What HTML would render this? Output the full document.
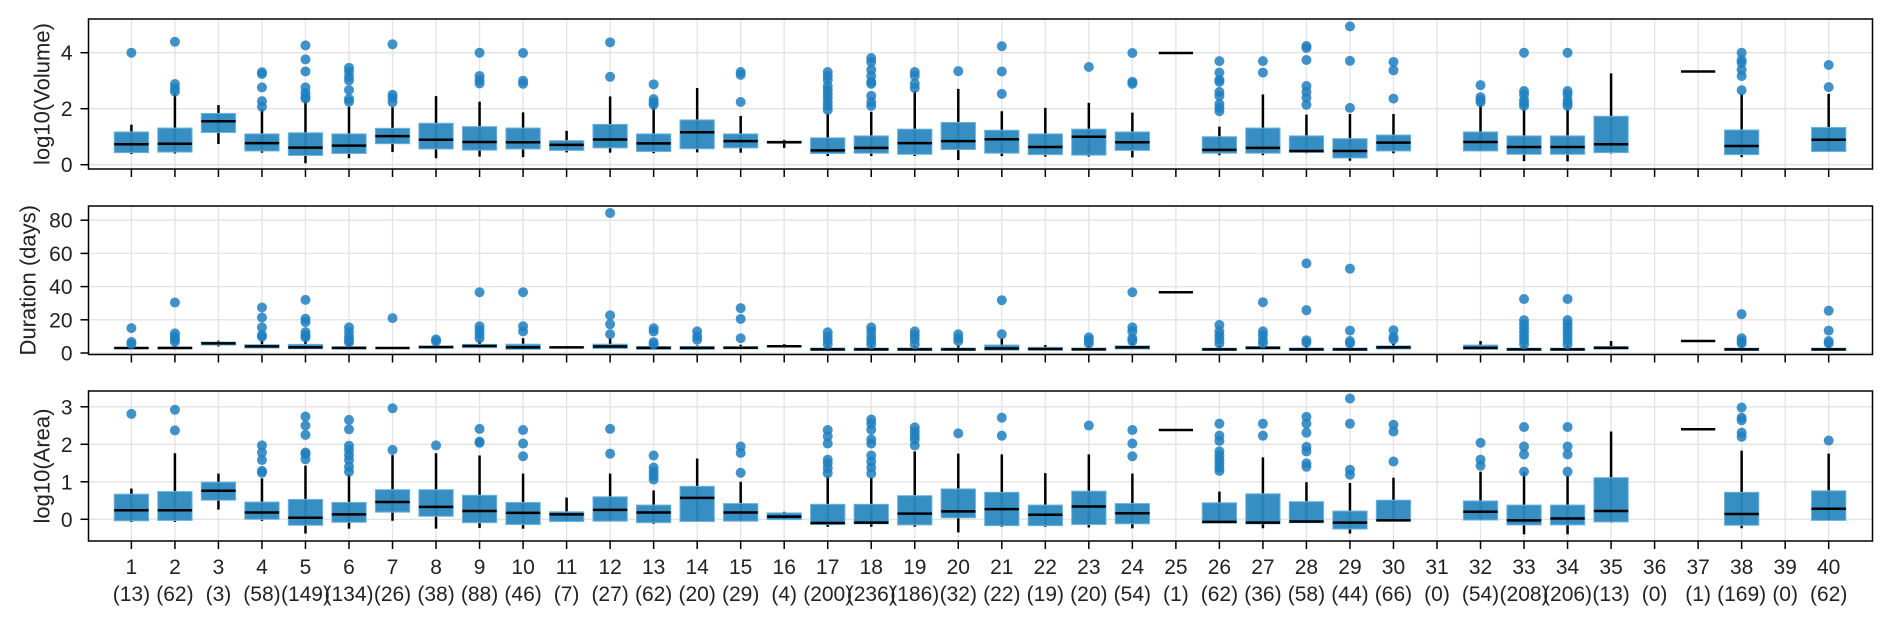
<!DOCTYPE html>
<html><head><meta charset="utf-8"><style>
body{margin:0;background:#fff;}
svg{display:block;font-family:"Liberation Sans",sans-serif;}
</style></head><body>
<svg id="chart" width="1892" height="625" xmlns="http://www.w3.org/2000/svg"></svg>
<script>
const categories=[1,2,3,4,5,6,7,8,9,10,11,12,13,14,15,16,17,18,19,20,21,22,23,24,25,26,27,28,29,30,31,32,33,34,35,36,37,38,39,40];
const counts=[13,62,3,58,149,134,26,38,88,46,7,27,62,20,29,4,200,236,186,32,22,19,20,54,1,62,36,58,44,66,0,54,208,206,13,0,1,169,0,62];
// [low whisker, q1, median, q3, high whisker]
const volStats=[[0.38,0.43,0.73,1.17,1.43],[0.4,0.45,0.75,1.31,2.55],[0.74,1.15,1.55,1.83,2.13],[0.43,0.49,0.77,1.1,1.99],[0.05,0.33,0.61,1.14,2.31],[0.23,0.4,0.68,1.1,2.07],[0.45,0.75,1.02,1.3,2.05],[0.23,0.56,0.89,1.48,2.45],[0.29,0.52,0.81,1.36,2.25],[0.27,0.56,0.8,1.31,1.87],[0.44,0.51,0.71,0.86,1.21],[0.43,0.6,0.9,1.44,2.44],[0.41,0.47,0.76,1.1,2.14],[0.44,0.57,1.16,1.6,2.74],[0.43,0.6,0.84,1.1,1.74],[0.6,0.77,0.8,0.84,0.89],[0.31,0.4,0.51,0.96,1.84],[0.31,0.41,0.6,1.03,1.89],[0.31,0.37,0.77,1.27,2.63],[0.17,0.54,0.84,1.51,2.71],[0.31,0.41,0.91,1.23,1.91],[0.29,0.36,0.63,1.1,2.03],[0.29,0.34,1.0,1.27,2.21],[0.26,0.51,0.8,1.17,1.86],[3.99,3.99,3.99,3.99,3.99],[0.34,0.41,0.53,1.0,1.36],[0.34,0.41,0.6,1.31,2.51],[0.41,0.44,0.49,1.03,1.79],[0.14,0.24,0.49,0.93,1.81],[0.41,0.49,0.79,1.06,1.81],null,[0.49,0.49,0.81,1.17,2.14],[0.13,0.37,0.63,1.03,2.0],[0.12,0.37,0.63,1.03,2.0],[0.4,0.43,0.73,1.73,3.26],null,[3.33,3.33,3.33,3.33,3.33],[0.27,0.36,0.67,1.24,2.53],null,[0.47,0.47,0.89,1.33,2.53]];
const volOutliers=[[4.0],[4.39,2.88,2.73,2.61],[],[3.3,3.24,2.76,2.27,2.07],[4.26,3.76,3.33,2.76,2.57,2.43,2.36],[3.46,3.32,3.14,3.01,2.67,2.35,2.25],[4.3,2.5,2.39,2.23],[],[4.0,3.17,3.02,2.9],[3.99,3.0,2.89],[],[4.37,3.14],[2.87,2.34,2.23,2.14],[],[3.31,3.21,2.24],[],[3.31,3.17,3.03,2.81,2.67,2.53,2.39,2.24,2.1,1.96],[3.81,3.67,3.39,3.17,2.96,2.89,2.46,2.24,2.1],[3.31,3.17,2.89,2.74],[3.34],[4.23,3.33,2.53],[],[3.49],[3.99,2.96,2.89],[],[3.7,3.29,3.03,2.96,2.6,2.46,2.17,2.03,1.91],[3.7,3.29],[4.24,4.17,3.74,2.81,2.6,2.39,2.14],[4.94,3.71,2.03],[3.67,3.37,2.36],[],[2.84,2.41,2.31,2.23],[4.0,2.63,2.51,2.31,2.2,2.1],[4.0,2.63,2.51,2.31,2.2,2.1],[],[],[],[4.0,3.74,3.64,3.39,3.17,2.66],[],[3.56,2.77]];
const durStats=[[2.6,2.6,3,3.2,3.4],[2.6,2.6,3,3.6,4.5],[4,4.8,5.8,6.6,7.4],[3,3,4,5,7.8],[2.6,2.6,3.4,5.2,8.8],[2.6,2.6,3,3.8,6.8],[3,3,3,3,3],[2.8,2.8,3.6,4,5],[3.2,3.2,4.2,5.2,7.8],[2.2,2.2,3.4,5.3,8.9],[3,3,3.4,3.8,3.8],[2.7,2.7,3.9,5.3,8.9],[2.2,2.2,3.1,3.9,6.5],[2.2,2.2,3.1,3.9,4.5],[2.7,2.7,3.1,3.9,5],[3.6,3.6,4.1,4.3,5.3],[1.5,1.5,2.2,3,4.5],[1.5,1.5,2.2,3,4.5],[1.5,1.5,2.2,3,4.5],[1.5,1.5,2.2,3,4.5],[1.7,1.7,2.7,4.8,8.9],[1.7,1.7,2.4,3.4,4.8],[1.7,1.7,2.2,3,4.5],[2.4,2.4,3.4,4.3,6.5],[36.6,36.6,36.6,36.6,36.6],[1.5,1.5,2.2,2.9,4.5],[2.4,2.4,3.1,3.9,5],[1.5,1.5,2.2,3,4.5],[1.5,1.5,2.2,3,4.5],[2.4,2.4,3.4,4.3,5.8],null,[2.2,2.2,3.1,4.8,7.2],[1.5,1.5,2.2,2.9,4.5],[1.5,1.5,2.2,2.9,4.5],[2.4,2.4,3.1,3.9,7.2],null,[7.2,7.2,7.2,7.2,7.2],[1.5,1.5,2.2,2.9,4.5],null,[1.5,1.5,2.2,2.9,4.5]];
const durOutliers=[[15,6.6,5.4],[30.4,11.8,9.8,8.2,6.8],[],[27.4,21.4,15.4,10.8,9.8],[32,20.6,18.6,12.6,10.6,9.4],[15.4,12.6,9.8,7.8,6.4],[21],[8.2,7],[36.6,16.1,13.7,11.3,8.9],[36.6,16.1,13],[],[84.3,22.7,17.3,11.3],[14.9,13,6.5,5.3],[13,10,8],[27,20.5,8.9],[],[12.5,10,7.7,5.3],[15.4,13,10,7.7,5.3],[13,10.6,8.2,5.3],[11.3,8.9,7.2],[31.8,11.3],[],[9.4,7.7,5.8],[36.6,15.4,13,8.9,7.2],[],[16.9,13,10.6,8.2,5.8],[30.6,13,10.6,7.7,5.8],[54,25.8,7.7,6.3],[50.8,13.5,7.2,5.8],[13.7,9.6,8.2],[],[],[32.5,19.8,17.3,14.9,12.5,10,7.7,5.3],[32.5,19.8,17.3,14.9,12.5,10,7.7,5.3],[],[],[],[23.4,8.9,7.2,5.8],[],[25.5,13.5,7.2,5.8]];
const areaStats=[[-0.07,-0.04,0.24,0.67,0.82],[-0.07,-0.03,0.24,0.74,1.76],[0.26,0.51,0.76,0.99,1.22],[-0.04,0,0.18,0.46,1.09],[-0.38,-0.16,0.04,0.53,1.43],[-0.25,-0.08,0.13,0.45,1.2],[-0.04,0.19,0.46,0.79,1.71],[-0.25,0.08,0.33,0.79,1.76],[-0.23,-0.09,0.22,0.64,1.7],[-0.25,-0.14,0.17,0.45,1.22],[-0.06,-0.06,0.13,0.2,0.58],[-0.05,-0.05,0.25,0.6,1.22],[-0.12,-0.09,0.18,0.38,0.77],[-0.06,-0.06,0.57,0.88,1.62],[-0.06,-0.05,0.18,0.42,1.0],[-0.01,-0.01,0.07,0.17,0.2],[-0.2,-0.14,-0.1,0.4,1.16],[-0.2,-0.12,-0.09,0.4,1.11],[-0.2,-0.15,0.15,0.63,1.81],[-0.35,0.04,0.21,0.81,1.75],[-0.2,-0.17,0.27,0.72,1.73],[-0.2,-0.17,0.12,0.38,1.23],[-0.22,-0.14,0.34,0.75,1.73],[-0.24,-0.12,0.16,0.42,1.22],[2.38,2.38,2.38,2.38,2.38],[-0.1,-0.1,-0.07,0.44,0.74],[-0.24,-0.12,-0.09,0.68,1.65],[-0.09,-0.09,-0.06,0.47,0.99],[-0.38,-0.26,-0.09,0.22,0.97],[-0.04,-0.04,-0.03,0.51,1.11],null,[-0.02,-0.02,0.2,0.49,1.27],[-0.4,-0.15,-0.03,0.38,1.27],[-0.4,-0.15,0.02,0.38,1.16],[-0.09,-0.07,0.22,1.11,2.34],null,[2.4,2.4,2.4,2.4,2.4],[-0.24,-0.16,0.14,0.72,1.83],null,[-0.03,-0.03,0.28,0.76,1.75]];
const areaOutliers=[[2.81],[2.92,2.37],[],[1.97,1.78,1.58,1.29,1.24],[2.74,2.5,2.25,1.78,1.74,1.6],[2.65,2.4,1.96,1.85,1.71,1.58,1.4,1.27],[2.96,1.85],[1.97],[2.41,2.07,2.04],[2.38,2.02,1.68],[],[2.41,1.75],[1.7,1.38,1.27,1.16,1.06],[],[1.94,1.77,1.24],[],[2.38,2.21,2.02,1.59,1.49,1.36,1.23],[2.66,2.55,2.39,2.13,2.02,1.7,1.54,1.38,1.22],[2.45,2.34,2.23,2.13,1.97],[2.29],[2.71,2.23],[],[2.5],[2.38,2.02,1.68],[],[2.55,2.23,2.09,1.81,1.7,1.59,1.49,1.38,1.29],[2.55,2.23],[2.73,2.55,2.31,1.93,1.81,1.49,1.4],[3.22,2.55,1.32,1.19],[2.52,2.34,1.54],[],[2.04,1.59,1.43],[2.46,1.94,1.73,1.27],[2.46,1.94,1.73,1.27],[],[],[],[2.98,2.71,2.64,2.31,2.2],[],[2.1]];
const volTicks=[0,2,4], durTicks=[0,20,40,60,80], areaTicks=[0,1,2,3];

const NS="http://www.w3.org/2000/svg";
const svg=document.getElementById('chart');
function mk(tag,attrs,parent){const e=document.createElementNS(NS,tag);for(const k in attrs)e.setAttribute(k,attrs[k]);(parent||svg).appendChild(e);return e;}
const L=88.5,R=1872.5;
const xScale=c=>131.4+(c-1)*43.52;
const BW=34.3;
const panels=[
 {name:'volume',title:'log10(Volume)',top:19,bottom:169,y0:164.7,k:28,ticks:volTicks,stats:volStats,outs:volOutliers,tx:42},
 {name:'duration',title:'Duration (days)',top:206,bottom:354.5,y0:353,k:1.66,ticks:durTicks,stats:durStats,outs:durOutliers,tx:28},
 {name:'area',title:'log10(Area)',top:391,bottom:541,y0:519.3,k:37.5,ticks:areaTicks,stats:areaStats,outs:areaOutliers,tx:42}
];
panels.forEach(p=>{
 const y=v=>p.y0-v*p.k;
 const g=mk('g',{});
 
 
 categories.forEach(c=>{const l=mk('line',{x1:xScale(c),x2:xScale(c),y1:p.top,y2:p.bottom,stroke:'#e3e3e3','stroke-width':1.3},g);
  
  const t=mk('line',{x1:xScale(c),x2:xScale(c),y1:p.bottom,y2:p.bottom+8,stroke:'#000','stroke-width':1.5},g);
  });
 p.ticks.forEach(v=>{const l=mk('line',{x1:L,x2:R,y1:y(v),y2:y(v),stroke:'#e3e3e3','stroke-width':1.3},g);
  
  const t=mk('line',{x1:L-8,x2:L,y1:y(v),y2:y(v),stroke:'#000','stroke-width':1.5},g);
  
  const tl=mk('text',{x:L-16,y:y(v)+7.5,'text-anchor':'end','font-size':21,fill:'#222'},g);tl.textContent=v;
  });
 const tt=mk('text',{x:p.tx,y:(p.top+p.bottom)/2,'text-anchor':'middle','font-size':22,fill:'#222',transform:`rotate(-90 ${p.tx} ${(p.top+p.bottom)/2})`,'dominant-baseline':'central'},g);
 tt.textContent=p.title;
 
 categories.forEach((c,i)=>{
  const s=p.stats[i]; if(!s) return; const x=xScale(c);
  const bg=mk('g',{},g);
  
  mk('line',{x1:x,x2:x,y1:y(s[0]),y2:y(s[4]),stroke:'#000','stroke-width':2.5},bg);
  const h=Math.max(0,y(s[1])-y(s[3]));
  if(h>0) mk('rect',{x:x-BW/2,y:y(s[3]),width:BW,height:h,fill:'#2c88c0','fill-opacity':0.95,stroke:'#6fb3dd','stroke-width':1},bg);
  mk('line',{x1:x-BW/2,x2:x+BW/2,y1:y(s[2]),y2:y(s[2]),stroke:'#000','stroke-width':2.5},bg);
  p.outs[i].forEach(v=>{const ci=mk('circle',{cx:x,cy:y(v),r:5,fill:'#1f7fbf','fill-opacity':0.85},bg);
   });
 });
 const fr=mk('rect',{x:L,y:p.top,width:R-L,height:p.bottom-p.top,fill:'none',stroke:'#000','stroke-width':1.5},g);
 
});
categories.forEach((c,i)=>{
 const t1=mk('text',{x:xScale(c),y:574,'text-anchor':'middle','font-size':21,fill:'#222'});t1.textContent=c;
 
 const t2=mk('text',{x:xScale(c),y:601,'text-anchor':'middle','font-size':21,fill:'#222'});t2.textContent='('+counts[i]+')';
 
});
</script>
</body></html>
